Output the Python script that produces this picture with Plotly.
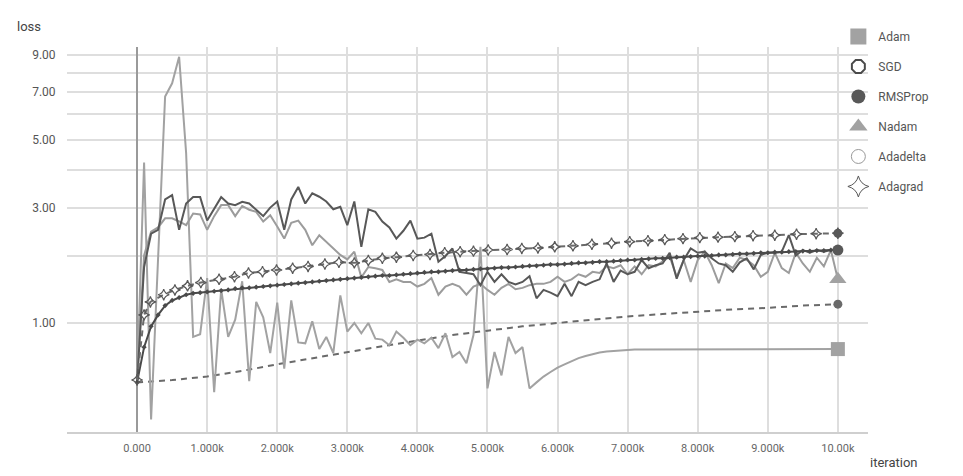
import numpy as np
import plotly.graph_objects as go

# ---------------- data ----------------
iters = list(range(0, 10001, 100))

adam = [0.40, 4.24, 0.12, 1.95, 6.80, 7.44, 8.90, 4.55, 0.84, 0.87,
        1.62, 0.32, 1.45, 0.84, 1.04, 1.57, 0.41, 1.27, 1.07, 0.67,
        1.26, 0.52, 1.29, 0.78, 0.77, 1.02, 0.71, 0.84, 0.67, 1.36,
        0.90, 1.00, 0.88, 1.00, 0.82, 0.81, 0.75, 0.90, 0.83, 0.75,
        0.81, 0.77, 0.83, 0.72, 0.88, 0.63, 0.68, 0.57, 0.86, 2.16,
        0.35, 0.68, 0.46, 0.84, 0.67, 0.73, 0.35, 0.40, 0.45, 0.49,
        0.53, 0.56, 0.59, 0.62, 0.64, 0.66, 0.675, 0.685, 0.69, 0.70,
        0.70, 0.705, 0.705, 0.705, 0.71, 0.71, 0.71, 0.71, 0.71, 0.71,
        0.71, 0.71, 0.71, 0.71, 0.71, 0.71, 0.71, 0.71, 0.71, 0.71,
        0.71, 0.71, 0.71, 0.71, 0.71, 0.71, 0.71, 0.71, 0.71, 0.71,
        0.71]

nadam = [0.40, 2.00, 2.46, 2.55, 2.75, 2.75, 2.68, 2.60, 2.86, 2.84,
         2.50, 2.80, 3.06, 3.06, 2.80, 3.04, 2.95, 2.90, 2.68, 2.82,
         2.57, 2.32, 2.65, 2.70, 2.50, 2.19, 2.39, 2.26, 2.13, 2.01,
         1.93, 2.07, 1.63, 1.80, 1.78, 1.75, 1.56, 1.60, 1.56, 1.56,
         1.49, 1.53, 1.62, 1.37, 1.49, 1.53, 1.49, 1.37, 1.49, 1.53,
         1.44, 1.37, 1.47, 1.53, 1.45, 1.47, 1.51, 1.53, 1.53, 1.56,
         1.64, 1.56, 1.60, 1.68, 1.64, 1.72, 1.70, 1.81, 1.78, 1.83,
         1.68, 1.81, 1.68, 1.83, 1.81, 1.89, 1.98, 1.64, 1.92, 1.56,
         1.92, 2.07, 1.83, 1.54, 1.86, 1.78, 1.96, 1.92, 1.83, 1.64,
         1.72, 2.05, 1.78, 1.70, 2.05, 1.86, 1.72, 1.96, 1.81, 2.10,
         1.60]

rmsprop = [0.40, 1.80, 2.42, 2.50, 3.20, 3.31, 2.50, 3.10, 3.26, 3.26,
           2.70, 2.97, 3.26, 3.10, 3.06, 3.14, 3.10, 2.95, 2.80, 3.00,
           3.15, 2.50, 3.20, 3.53, 3.10, 3.36, 3.27, 3.15, 2.96, 3.02,
           2.60, 3.15, 2.16, 2.96, 2.90, 2.68, 2.55, 2.32, 2.48, 2.70,
           2.32, 2.34, 2.42, 1.89, 1.99, 2.13, 1.72, 1.70, 1.68, 1.51,
           1.72, 1.56, 1.68, 1.56, 1.52, 1.56, 1.65, 1.32, 1.44, 1.40,
           1.35, 1.53, 1.35, 1.56, 1.51, 1.56, 1.60, 1.86, 1.56, 1.74,
           1.68, 1.72, 1.92, 1.78, 1.83, 1.86, 2.05, 1.61, 1.92, 2.13,
           2.05, 2.07, 1.95, 1.86, 1.83, 1.72, 1.88, 1.95, 1.76, 2.01,
           2.05, 2.05, 2.07, 2.39, 2.00, 2.10, 2.05, 2.10, 2.07, 2.10,
           2.10]

sgd = [0.40, 0.73, 0.96, 1.10, 1.22, 1.29, 1.33, 1.37, 1.39, 1.40,
       1.41, 1.42, 1.43, 1.44, 1.46, 1.47, 1.47, 1.48, 1.49, 1.50,
       1.51, 1.52, 1.53, 1.54, 1.55, 1.56, 1.57, 1.58, 1.59, 1.60,
       1.61, 1.62, 1.63, 1.64, 1.65, 1.66, 1.66, 1.67, 1.68, 1.69,
       1.70, 1.71, 1.72, 1.72, 1.73, 1.74, 1.75, 1.75, 1.76, 1.77,
       1.77, 1.78, 1.79, 1.79, 1.80, 1.81, 1.82, 1.82, 1.83, 1.84,
       1.84, 1.85, 1.86, 1.87, 1.87, 1.88, 1.89, 1.89, 1.90, 1.91,
       1.92, 1.92, 1.93, 1.94, 1.95, 1.95, 1.96, 1.97, 1.97, 1.98,
       1.99, 1.99, 2.00, 2.01, 2.01, 2.02, 2.03, 2.03, 2.04, 2.05,
       2.05, 2.06, 2.06, 2.07, 2.07, 2.08, 2.08, 2.09, 2.09, 2.10,
       2.10]

adagrad_x = [0, 100, 190, 380, 540, 720, 910, 1170, 1390, 1590, 1790, 1990,
             2220, 2440, 2680, 2880, 3100, 3300, 3500, 3700, 3940, 4180,
             4390, 4610, 4800, 5010, 5280, 5490, 5720, 5960, 6220, 6490,
             6770, 7030, 7290, 7530, 7790, 8030, 8290, 8530, 8790, 9100,
             9410, 9690, 10000]
adagrad = [0.42, 1.10, 1.27, 1.37, 1.44, 1.50, 1.55, 1.60, 1.64, 1.70, 1.72,
           1.75, 1.78, 1.81, 1.85, 1.88, 1.87, 1.91, 1.95, 1.97, 2.00, 2.02,
           2.05, 2.07, 2.08, 2.10, 2.11, 2.13, 2.14, 2.16, 2.18, 2.21, 2.23,
           2.26, 2.28, 2.30, 2.32, 2.34, 2.35, 2.36, 2.38, 2.39, 2.41, 2.42,
           2.43]

adadelta_x = list(range(0, 10001, 500))
adadelta = [0.40, 0.42, 0.45, 0.50, 0.56, 0.62, 0.68, 0.74, 0.80, 0.86,
            0.91, 0.96, 1.00, 1.04, 1.08, 1.11, 1.14, 1.17, 1.19, 1.22, 1.24]

x_tick_vals = [-1000, 0, 1000, 2000, 3000, 4000, 5000, 6000, 7000, 8000, 9000, 10000]
x_tick_text = ["", "0.000", "1.000k", "2.000k", "3.000k", "4.000k", "5.000k",
               "6.000k", "7.000k", "8.000k", "9.000k", "10.00k"]
y_tick_vals = [1, 2, 3, 4, 5, 6, 7, 8, 9]
y_tick_text = ["1.00", "", "3.00", "", "5.00", "", "7.00", "", "9.00"]

names = ["Adam", "SGD", "RMSProp", "Nadam", "Adadelta", "Adagrad"]

# ---------------- styling ----------------
DARK = "#585858"
DARK2 = "#4a4a4a"
LIGHT = "#a2a2a2"
MID = "#6a6a6a"


def tr(v):
    return np.log1p(np.asarray(v, dtype=float))


fig = go.Figure()

fig.add_trace(go.Scatter(x=adadelta_x, y=tr(adadelta), mode="lines",
                         line=dict(color=MID, width=2, dash="6px,5px"),
                         showlegend=False, hoverinfo="skip"))
fig.add_trace(go.Scatter(x=iters, y=tr(adam), mode="lines",
                         line=dict(color=LIGHT, width=2),
                         showlegend=False, hoverinfo="skip"))
fig.add_trace(go.Scatter(x=iters, y=tr(nadam), mode="lines",
                         line=dict(color="#9c9c9c", width=2),
                         showlegend=False, hoverinfo="skip"))
fig.add_trace(go.Scatter(x=iters, y=tr(rmsprop), mode="lines",
                         line=dict(color=DARK, width=2),
                         showlegend=False, hoverinfo="skip"))
fig.add_trace(go.Scatter(x=iters, y=tr(sgd), mode="lines+markers",
                         line=dict(color=DARK2, width=2),
                         marker=dict(symbol="diamond", size=4, color=DARK2),
                         showlegend=False, hoverinfo="skip"))
fig.add_trace(go.Scatter(x=adagrad_x, y=tr(adagrad), mode="lines+markers",
                         line=dict(color=MID, width=2, dash="6px,5px"),
                         marker=dict(symbol="star-diamond-open", size=8, color=DARK,
                                     line=dict(width=1.2)),
                         showlegend=False, hoverinfo="skip"))

# end-of-series markers
ends = [
    (adagrad_x[-1], adagrad[-1], "circle", 9, DARK),
    (iters[-1], sgd[-1], "circle", 11, DARK),
    (iters[-1], nadam[-1], "triangle-up", 15, LIGHT),
    (adadelta_x[-1], adadelta[-1], "circle", 9, MID),
    (iters[-1], adam[-1], "square", 14, LIGHT),
]
for ex, ey, sym, sz, col in ends:
    fig.add_trace(go.Scatter(x=[ex], y=tr([ey]), mode="markers",
                             marker=dict(symbol=sym, size=sz, color=col),
                             showlegend=False, hoverinfo="skip"))

# legend entries
leg_styles = [
    dict(symbol="square", size=16, color=LIGHT),
    dict(symbol="octagon-open", size=14, color=DARK2, line=dict(width=2)),
    dict(symbol="circle", size=14, color=DARK),
    dict(symbol="triangle-up", size=16, color=LIGHT),
    dict(symbol="circle-open", size=14, color="#999999", line=dict(width=1)),
    dict(symbol="star-diamond-open", size=15, color=DARK, line=dict(width=1)),
]
for i, (nm, st) in enumerate(zip(names, leg_styles)):
    fig.add_trace(go.Scatter(x=[None], y=[None], mode="markers", name=nm,
                             marker=st, legendgroup="g%d" % i, showlegend=True))

fig.update_layout(
    width=963, height=476,
    margin=dict(l=67, r=95, t=47, b=44),
    paper_bgcolor="white", plot_bgcolor="white",
    font=dict(family="Roboto, Arial, sans-serif", color="#555555", size=11),
    hovermode=False,
    legend=dict(x=0.963, y=1.065, xanchor="left", yanchor="top",
                font=dict(size=12, color="#555555"),
                tracegroupgap=11, bgcolor="rgba(0,0,0,0)",
                itemsizing="trace"),
    xaxis=dict(range=[-1000, 10430], tickvals=x_tick_vals, ticktext=x_tick_text,
               showgrid=True, gridcolor="#dedede", gridwidth=1.5,
               zeroline=True, zerolinecolor="#9a9a9a", zerolinewidth=2,
               showline=True, linecolor="#cfcfcf", linewidth=1.5,
               ticks="outside", ticklen=5, tickcolor="rgba(0,0,0,0)",
               tickfont=dict(size=11, color="#666666")),
    yaxis=dict(range=[0.0384, 2.351], tickvals=tr(y_tick_vals), ticktext=y_tick_text,
               showgrid=True, gridcolor="#dedede", gridwidth=1.5,
               zeroline=False, showline=False,
               ticks="outside", ticklen=8, tickcolor="rgba(0,0,0,0)",
               tickfont=dict(size=12, color="#555555")),
    annotations=[
        dict(text="loss", xref="paper", yref="paper", x=-0.065, y=1.052,
             xanchor="left", yanchor="middle", showarrow=False,
             font=dict(size=13, color="#444444")),
        dict(text="iteration", xref="paper", yref="paper", x=1.0, y=-0.078,
             xanchor="left", yanchor="middle", showarrow=False,
             font=dict(size=13, color="#444444")),
    ],
)

fig.write_html("out.html")
